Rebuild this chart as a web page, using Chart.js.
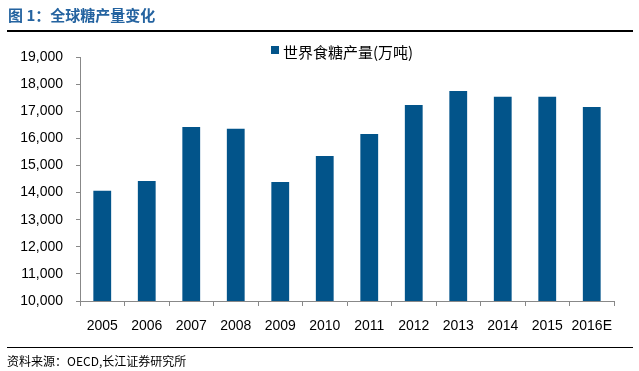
<!DOCTYPE html>
<html><head><meta charset="utf-8">
<script src="https://cdn.jsdelivr.net/npm/chart.js@4/dist/chart.umd.min.js"></script>
<style>
html,body{margin:0;padding:0;background:#fff;width:639px;height:371px;overflow:hidden;font-family:"Liberation Sans",Arial,"Noto Sans CJK SC",sans-serif;}
#wrap{position:absolute;left:0;top:0;width:639px;height:371px;}
#title{position:absolute;left:8px;top:4px;font-family:"Noto Sans CJK SC",sans-serif;font-weight:bold;font-size:15px;color:#2463a0;}
#line1{position:absolute;left:7px;top:30px;width:626px;height:2px;background:#000;}
#line2{position:absolute;left:7px;top:347px;width:626px;height:1px;background:#000;}
#src{position:absolute;left:7px;top:352px;font-family:"Noto Sans CJK SC",sans-serif;font-size:12px;color:#000;}
#legend{position:absolute;left:271px;top:41px;font-family:"Noto Sans CJK SC",sans-serif;font-size:15px;color:#000;display:flex;align-items:center;}
#legend span.box{display:inline-block;width:8px;height:8px;background:#02548a;margin-right:4px;margin-top:-4px;}
canvas{position:absolute;left:0;top:0;}
</style></head>
<body><div id="wrap">
<canvas id="c" width="639" height="371"></canvas>
<div id="title">图 1：全球糖产量变化</div>
<div id="line1"></div>
<div id="legend"><span class="box"></span>世界食糖产量(万吨)</div>
<div id="line2"></div>
<div id="src">资料来源：OECD,长江证券研究所</div>
</div>
<script>
const categories = ["2005","2006","2007","2008","2009","2010","2011","2012","2013","2014","2015","2016E"];
const sugarProduction = [14070,14430,16420,16350,14390,15350,16160,17230,17750,17530,17530,17160];
const seriesName = "世界食糖产量(万吨)";
const yMin = 10000, yMax = 19000, yStep = 1000;

new Chart(document.getElementById('c'), {
  type: 'bar',
  data: {
    labels: categories,
    datasets: [{
      label: seriesName,
      data: sugarProduction,
      backgroundColor: '#02548a',
      borderWidth: 0,
      categoryPercentage: 1,
      barPercentage: 0.4
    }]
  },
  options: {
    responsive: false,
    animation: false,
    layout: { padding: { top: 57, right: 25, left: 0, bottom: 0 } },
    plugins: { legend: { display: false }, title: { display: false }, tooltip: { enabled: false } },
    scales: {
      x: {
        offset: true,
        grid: { display: true, drawOnChartArea: false, offset: true, tickLength: 5, color: '#888', lineWidth: 1 },
        border: { display: true, color: '#888', width: 1 },
        ticks: { color: '#000', font: { family: '"Liberation Sans", Arial, sans-serif', size: 14 }, padding: 12, maxRotation: 0, autoSkip: false },
        afterFit: function(s){ s.height = 70; }
      },
      y: {
        min: yMin, max: yMax,
        grid: { display: true, drawOnChartArea: false, tickLength: 4, color: '#888', lineWidth: 1 },
        border: { display: true, color: '#888', width: 1 },
        ticks: {
          stepSize: yStep, color: '#000', padding: 13,
          font: { family: '"Liberation Sans", Arial, sans-serif', size: 14 },
          callback: v => v.toLocaleString('en-US')
        },
        afterFit: function(s){ s.width = 80; }
      }
    }
  }
});
</script>
</body></html>
